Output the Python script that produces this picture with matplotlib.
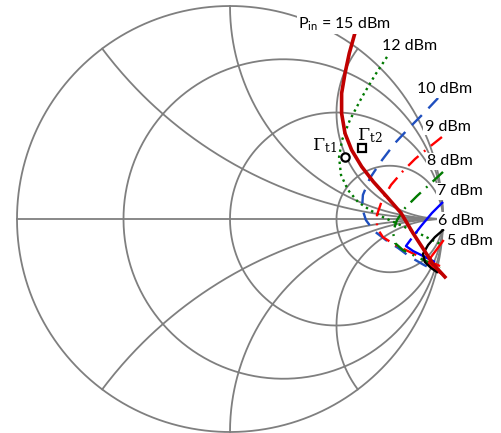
import numpy as np
import matplotlib.pyplot as plt

plt.rcParams['font.family'] = ['Lato', 'DejaVu Sans']
plt.rcParams['mathtext.fontset'] = 'dejavuserif'

# Smith chart grid values
r_circles = [1/3, 1, 3]
x_arcs = [0.5, 1, 2, -0.5, -1, -2]

# Reflection coefficient trajectories (real, imag) per input power
g15_re = [0.584, 0.560, 0.540, 0.524, 0.524, 0.540, 0.571, 0.618, 0.673, 0.736, 0.803, 0.859, 0.911, 0.953, 1.009]
g15_im = [0.864, 0.778, 0.684, 0.590, 0.496, 0.402, 0.324, 0.246, 0.175, 0.105, 0.028, -0.066, -0.146, -0.211, -0.272]

g12_re = [0.737, 0.681, 0.620, 0.563, 0.526, 0.512, 0.521, 0.554, 0.601, 0.657, 0.718, 0.798, 0.892, 0.986]
g12_im = [0.761, 0.676, 0.573, 0.465, 0.371, 0.291, 0.207, 0.136, 0.080, 0.042, 0.009, -0.028, -0.070, -0.117]

g10_re = [0.977, 0.915, 0.845, 0.775, 0.714, 0.657, 0.624, 0.620, 0.638, 0.676, 0.732, 0.789, 0.845, 0.911, 0.977]
g10_im = [0.568, 0.502, 0.432, 0.357, 0.277, 0.192, 0.113, 0.052, -0.005, -0.056, -0.099, -0.136, -0.178, -0.216, -0.249]

g9_re = [0.995, 0.930, 0.869, 0.812, 0.756, 0.714, 0.690, 0.690, 0.718, 0.775, 0.845, 0.915, 0.986]
g9_im = [0.385, 0.333, 0.282, 0.225, 0.160, 0.089, 0.019, -0.042, -0.085, -0.122, -0.155, -0.188, -0.221]

g8_re = [1.000, 0.939, 0.878, 0.822, 0.784, 0.765, 0.775, 0.812, 0.869, 0.930, 0.986]
g8_im = [0.221, 0.164, 0.108, 0.052, -0.005, -0.061, -0.113, -0.146, -0.174, -0.202, -0.230]

g7_re = [1.000, 0.948, 0.897, 0.854, 0.826, 0.859, 0.915, 0.972]
g7_im = [0.080, 0.028, -0.033, -0.089, -0.127, -0.150, -0.178, -0.207]

g6_re = [1.000, 0.972, 0.944, 0.934, 0.962, 0.995]
g6_im = [-0.103, -0.141, -0.178, -0.211, -0.239, -0.258]

g5_re = [1.000, 0.962, 0.930, 0.906, 0.915, 0.944, 0.972]
g5_im = [-0.052, -0.085, -0.122, -0.164, -0.202, -0.230, -0.249]

gt1 = (0.540, 0.291)
gt2 = (0.618, 0.332)

fig = plt.figure(figsize=(5.01, 4.33), dpi=100)
ax = fig.add_axes([0, 0, 1, 1])
ax.set_xlim(-1.0798, 1.2723)
ax.set_ylim(-1.0047, 1.0282)
ax.axis('off')

grid_kw = dict(color='#7F7F7F', lw=1.3, zorder=1)

# outer circle and constant resistance circles
t = np.linspace(0, 2*np.pi, 600)
ax.plot(np.cos(t), np.sin(t), **grid_kw)
for r in r_circles:
    c, rad = r/(1+r), 1/(1+r)
    ax.plot(c + rad*np.cos(t), rad*np.sin(t), **grid_kw)

# constant reactance arcs
rr = np.concatenate([np.linspace(0, 5, 400), np.logspace(np.log10(5), 4, 300)])
for xv in x_arcs:
    z = rr + 1j*xv
    g = (z - 1)/(z + 1)
    ax.plot(g.real, g.imag, **grid_kw)
ax.plot([-1, 1], [0, 0], **grid_kw)

# power sweep trajectories
ax.plot(g12_re, g12_im, color='#007A00', lw=1.7, ls=(0, (1, 1.6)), zorder=3)
ax.plot(g10_re, g10_im, color='#1F4FBF', lw=1.7, ls=(0, (6, 4)), zorder=3)
ax.plot(g9_re, g9_im, color='#FF0000', lw=1.7, ls=(0, (6, 3, 0.8, 3)), zorder=3)
ax.plot(g8_re, g8_im, color='#007A00', lw=1.7, ls=(0, (6, 3, 0.8, 3)), zorder=3)
ax.plot(g7_re, g7_im, color='#0000FF', lw=1.7, ls=(0, (18, 2.5)), zorder=3)
ax.plot(g6_re, g6_im, color='#FF0000', lw=1.7, zorder=3)
ax.plot(g5_re, g5_im, color='black', lw=1.7, zorder=3)
ax.plot(g15_re, g15_im, color='#C00000', lw=2.6, zorder=4)

ax.plot(*gt1, 'o', ms=6, mfc='white', mec='black', mew=1.6, zorder=5)
ax.plot(*gt2, 's', ms=5.5, mfc='white', mec='black', mew=1.6, zorder=5)

box = dict(facecolor='white', edgecolor='none', pad=1.0)
labels = [
    (0.319, 0.915, r'$\mathregular{P_{in}}$ = 15 dBm'),
    (0.714, 0.812, '12 dBm'),
    (0.878, 0.610, '10 dBm'),
    (0.915, 0.432, '9 dBm'),
    (0.925, 0.272, '8 dBm'),
    (0.972, 0.131, '7 dBm'),
    (0.977, -0.009, '6 dBm'),
    (1.019, -0.103, '5 dBm'),
]
for lx, ly, s in labels:
    ax.text(lx, ly, s, fontsize=11.5, ha='left', va='center', bbox=box, zorder=6)

ax.text(0.385, 0.345, r'$\Gamma_{\mathrm{t1}}$', fontsize=12.5, ha='left', va='center', zorder=6)
ax.text(0.598, 0.392, r'$\Gamma_{\mathrm{t2}}$', fontsize=12.5, ha='left', va='center', zorder=6)

fig.savefig('out.png', dpi=100)
